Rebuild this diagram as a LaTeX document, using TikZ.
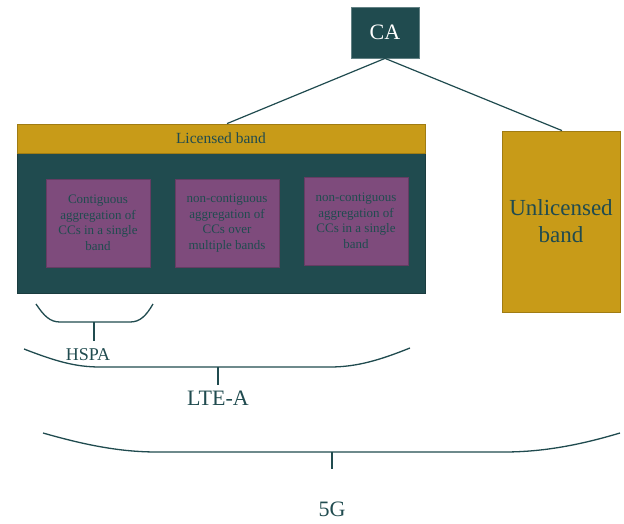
\documentclass[tikz,border=0pt]{standalone}
\usepackage{fontspec}
\setmainfont{Liberation Serif}
\definecolor{teal}{HTML}{204B4F}
\definecolor{gold}{HTML}{C89B18}
\definecolor{plum}{HTML}{7E4B7C}
\tikzset{
  box/.style={draw, line width=0.8pt, inner sep=0pt, anchor=center, align=center},
  cabox/.style={box, fill=teal, draw=teal!70!white, text=white, font=\fontsize{22}{26}\selectfont},
  goldbox/.style={box, fill=gold, draw=gold!80!black, text=teal},
  bodybox/.style={box, fill=teal, draw=teal!80!black},
  ccbox/.style={box, fill=plum, draw=plum!80!black, text=teal, minimum width=104pt, minimum height=88pt, font=\fontsize{13}{15.5}\selectfont},
  link/.style={draw=teal, line width=1.2pt},
  brace/.style={draw=teal, line width=1.3pt},
  lbl/.style={text=teal, inner sep=0pt, anchor=center}
}
\begin{document}
\begin{tikzpicture}[x=1pt,y=-1pt]
\useasboundingbox (0,0) rectangle (624,524);
% CA
\node[cabox, minimum width=68pt, minimum height=51pt] (ca) at (385,32.5) {CA};
% licensed
\node[bodybox, minimum width=408pt, minimum height=140pt] (body) at (221,223) {};
\node[goldbox, minimum width=408pt, minimum height=29pt, font=\fontsize{15.5}{18}\selectfont] (lic) at (221,138.5) {Licensed band};
\node[ccbox] (c1) at (98,223) {Contiguous\\aggregation of\\CCs in a single\\band};
\node[ccbox] (c2) at (227,223) {non-contiguous\\aggregation of\\CCs over\\multiple bands};
\node[ccbox] (c3) at (356,221) {non-contiguous\\aggregation of\\CCs in a single\\band};
% unlicensed
\node[goldbox, minimum width=118pt, minimum height=181pt, font=\fontsize{23}{27}\selectfont] (unl) at (561,221.5) {Unlicensed\\band};
% links
\draw[link] (ca.south) -- ([xshift=6pt]lic.north);
\draw[link] (ca.south) -- ([xshift=1pt]unl.north);
% HSPA brace
\coordinate (h1) at (94,322);
\coordinate (h2) at (94,341);
\draw[brace] (36,304) .. controls (44,316) and (50,322) .. (60,322) -- (130,322) .. controls (140,322) and (146,316) .. (153,304);
\draw[brace] (h1) -- (h2);
\node[lbl, font=\fontsize{18}{20}\selectfont] (hspa) at (88,355) {HSPA};
% LTE-A brace
\coordinate (l1) at (218,367);
\coordinate (l2) at (218,385);
\draw[brace] (24,349) .. controls (55,361) and (75,367) .. (100,367) -- (330,367) .. controls (357,367) and (380,360) .. (410,348);
\draw[brace] (l1) -- (l2);
\node[lbl, font=\fontsize{22}{24}\selectfont] (lte) at (218,398) {LTE-A};
% 5G brace
\coordinate (g1) at (332,452);
\coordinate (g2) at (332,469);
\draw[brace] (43,433) .. controls (85,445) and (120,452) .. (157,452) -- (504,452) .. controls (543,452) and (580,445) .. (620,433);
\draw[brace] (g1) -- (g2);
\node[lbl, font=\fontsize{22}{24}\selectfont] (fg) at (332,509) {5G};
\end{tikzpicture}
\end{document}
